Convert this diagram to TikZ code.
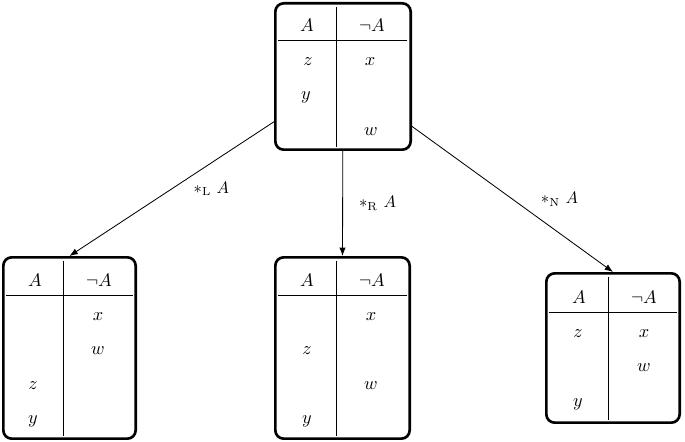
\documentclass[tikz,border=0pt]{standalone}
\usepackage{tikz}
\usetikzlibrary{arrows.meta}

\tikzset{
  tablebox/.style={shape=rectangle, draw, line width=1.6pt, rounded corners=5pt, inner sep=0pt},
  rulesep/.style={line width=0.6pt},
  cell/.style={inner sep=0pt, font=\fontsize{11}{13}\selectfont}
}

\begin{document}
\begin{tikzpicture}[x=0.6pt, y=-0.6pt]
\useasboundingbox (0,0) rectangle (685,442);

% the four tables
\node (Top) at (343,76.5) [tablebox, minimum width=81.2pt, minimum height=87.8pt] {};

\node (Left) at (69.5,348) [tablebox, minimum width=79.4pt, minimum height=108.8pt] {};

\node (Middle) at (342.5,348) [tablebox, minimum width=80.6pt, minimum height=108.8pt] {};

\node (Right) at (613,348) [tablebox, minimum width=80pt, minimum height=89.6pt] {};

% top table
\draw [rulesep] (336,7) -- (336,147);
\draw [rulesep] (278,41) -- (407,41);
\node (Top A) at (307,25) [cell] {$A$};
\node (Top notA) at (372,25) [cell] {$\neg A$};
\node (Top z) at (308,62) [cell] {$z$};
\node (Top x) at (370,62) [cell] {$x$};
\node (Top y) at (306,97) [cell] {$y$};
\node (Top w) at (371,132) [cell] {$w$};

% left table
\draw [rulesep] (63,261) -- (63,436);
\draw [rulesep] (6,296) -- (133,296);
\node (Left A) at (35,280) [cell] {$A$};
\node (Left notA) at (99,280) [cell] {$\neg A$};
\node (Left x) at (98,317) [cell] {$x$};
\node (Left w) at (98,351) [cell] {$w$};
\node (Left z) at (33,386) [cell] {$z$};
\node (Left y) at (33,421) [cell] {$y$};

% middle table
\draw [rulesep] (336,261) -- (336,436);
\draw [rulesep] (278,296) -- (407,296);
\node (Middle A) at (307,280) [cell] {$A$};
\node (Middle notA) at (372,280) [cell] {$\neg A$};
\node (Middle x) at (371,317) [cell] {$x$};
\node (Middle z) at (307,351) [cell] {$z$};
\node (Middle w) at (371,386) [cell] {$w$};
\node (Middle y) at (307,421) [cell] {$y$};

% right table
\draw [rulesep] (608,277) -- (608,420);
\draw [rulesep] (549,313) -- (677,313);
\node (Right A) at (579,297) [cell] {$A$};
\node (Right notA) at (644,297) [cell] {$\neg A$};
\node (Right z) at (578,334) [cell] {$z$};
\node (Right x) at (644,334) [cell] {$x$};
\node (Right w) at (644,368) [cell] {$w$};
\node (Right y) at (578,404) [cell] {$y$};

\path [-{Latex[length=5pt, width=3.8pt]}, line width=0.5pt]   (Top)  edge  node[midway, right, xshift=9.6pt]  {$*_{\mathrm{L}}\ A$}  (Left.north)
    edge  node[midway, right, xshift=6.3pt]  {$*_{\mathrm{R}}\ A$}  (Middle.north)
    edge  node[midway, right, xshift=13.5pt]  {$*_{\mathrm{N}}\ A$}  (Right.north);
\end{tikzpicture}
\end{document}
